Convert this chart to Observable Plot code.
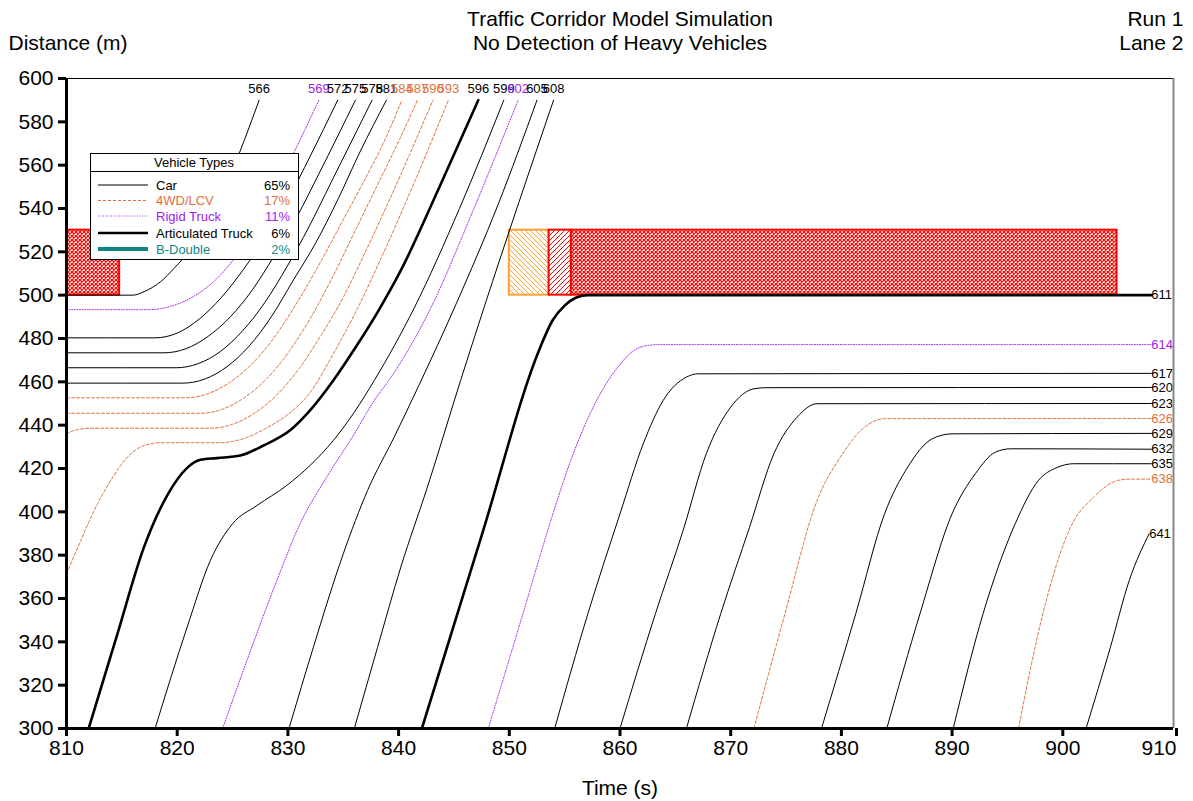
<!DOCTYPE html>
<html><head><meta charset="utf-8">
<script src="https://cdn.jsdelivr.net/npm/d3@7"></script>
<script src="https://cdn.jsdelivr.net/npm/@observablehq/plot@0.6"></script>
<style>
body{margin:0;background:#fff;}
svg{font-family: Arial, "Liberation Sans", sans-serif;}
</style>
</head><body><div id="chart"></div>
<script>
// ---- Vehicle trajectories: [time (s), distance (m)] ----
const v566 = [[810,500],[816,500],[817,501.6],[818.5,506.2],[819.7,512.3],[821.5,523],[823.5,540],[825.6,565.4],[827.4,590]];
const v569 = [[810,493.3],[817.5,493.3],[819.5,495],[821.5,499.5],[823.6,507.7],[826,523],[828.3,543],[830.5,565.4],[832.8,590]];
const v572 = [[810,480.3],[818,480.3],[820,482.5],[822,489],[824,499],[826,512],[828,527],[830,544],[832,564],[834.5,590]];
const v575 = [[810,473.4],[818.8,473.4],[820.8,475.3],[822.8,481],[824.8,490],[826.8,502.5],[828.8,518.5],[830.8,536],[832.8,556],[836.1,590]];
const v578 = [[810,466.5],[819.9,466.5],[821.9,468.4],[823.9,474],[825.9,483.5],[827.9,496.5],[829.9,513],[831.9,531.5],[833.9,552],[835.9,572.5],[837.6,590]];
const v581 = [[810,459.4],[820.5,459.4],[822.5,461.3],[824.5,467],[826.5,476.5],[828.5,490],[830.5,507],[832.5,524],[834.5,544],[836.5,566],[838.9,590]];
const v584 = [[810,452.6],[820.7,452.6],[822.7,454.4],[824.7,459.6],[826.7,468],[828.7,480],[830.7,495.5],[832.7,513],[834.7,532],[836.7,551],[838.7,571],[840.3,590]];
const v587 = [[810,445.5],[822.1,445.5],[824.1,447.4],[826.1,452.8],[828.1,461.5],[830.1,474],[832.1,490],[834.1,509],[836.1,530],[838.1,551],[840.1,572],[841.7,590]];
const v590 = [[810,436],[811,438],[812.5,438.6],[823,438.6],[825,440.4],[827,445.6],[829,454],[831,466],[833,481.5],[835,499],[837,520],[839,542],[841,565],[843.1,590]];
const v593 = [[810,371.4],[811.3,386.8],[812.5,400.6],[814,414.5],[815.5,425.2],[817,430.6],[818.5,431.9],[823.9,431.9],[826,433.8],[828,438.5],[830,445],[832,455],[834,472],[836.3,494],[838.5,518],[841.5,553],[844.5,590]];
const v596 = [[812,300],[814.6,343.7],[817,383.7],[819.1,407.6],[820.9,420.3],[822.1,424],[823.6,424.8],[825.7,426],[827.8,430.6],[830.2,437.6],[832,446.8],[834.1,460.6],[836,475],[838.2,493],[840.2,511.4],[843.7,550],[847.2,590]];
const v599 = [[818,300],[820.9,346.8],[823,377.6],[825,394.5],[827.2,402.9],[829.9,412.2],[832,421.4],[834.1,432.9],[836,446],[837.8,460.6],[841.4,494],[845.5,540],[849.5,590]];
const v602 = [[824.1,300],[826.3,331.4],[829,368.3],[831.1,394.5],[833.5,416],[836,436],[837.8,451.4],[839.3,462],[842.9,494],[846.8,540],[850.8,590]];
const v605 = [[830.1,300],[832.3,337.5],[835,380.6],[837.2,409.9],[839.6,434.5],[841.8,458],[845.2,496],[849,542],[852.5,590]];
const v608 = [[836,300],[838.1,337.5],[840.2,374.5],[842.6,411.4],[845.6,460.6],[847.7,494],[854,590]];
const v611 = [[842.1,300],[847.5,389],[852.8,476],[853.9,488.3],[855,495.2],[856,498.8],[857.1,500],[908,500]];
const v614 = [[848.1,300],[851,349],[854,400],[855.5,423],[857,442],[858.5,457],[860,468],[861,473.5],[862.2,476.5],[863.5,477.2],[908,477.2]];
const v617 = [[854.1,300],[857.1,353],[860,399.1],[862.1,431.4],[863.9,451.4],[866,462.2],[867.1,463.7],[908,463.9]];
const v620 = [[860,300],[863.2,353],[865.7,391.4],[867.8,426.9],[870,448.3],[872.1,456.8],[873.2,457.3],[908,457.4]];
const v623 = [[866,300],[869.1,353],[871.7,392.9],[873.9,426.8],[876,443.7],[877.8,449.9],[908,450]];
const v626 = [[872.1,300],[874.9,353],[877.8,405.2],[879.9,425.2],[882.1,439.1],[883.9,443],[908,443.1]];
const v629 = [[878.2,300],[881.3,353],[883.9,399.1],[886,420.7],[888.2,433.7],[890,436],[908,436.2]];
const v632 = [[884.1,300],[887.1,353],[890,399.1],[892.1,417.6],[893.9,427.5],[895.3,429.1],[908,428.9]];
const v635 = [[890.1,300],[892.8,353],[895.7,394.5],[897.8,414.5],[899.5,420.5],[901,422.2],[908,422.2]];
const v638 = [[896,300],[898.2,353],[900.7,392.9],[902.8,406.8],[905,414.5],[906.1,415.1],[908,415.1]];
const v641 = [[902.1,300],[904.3,337.5],[906,368.3],[907.8,389.9]];

const vehicleIds   = [566,569,572,575,578,581,584,587,590,593,596,599,602,605,608,611,614,617,620,623,626,629,632,635,638,641];
const vehicleTypes = ["Car","Rigid Truck","Car","Car","Car","Car","4WD/LCV","4WD/LCV","4WD/LCV","4WD/LCV","Articulated Truck","Car","Rigid Truck","Car","Car","Articulated Truck","Rigid Truck","Car","Car","Car","4WD/LCV","Car","Car","Car","4WD/LCV","Car"];
const vehicleTracks = [v566,v569,v572,v575,v578,v581,v584,v587,v590,v593,v596,v599,v602,v605,v608,v611,v614,v617,v620,v623,v626,v629,v632,v635,v638,v641];

// ---- Legend ----
const legendTypes = ["Car","4WD/LCV","Rigid Truck","Articulated Truck","B-Double"];
const legendShares = ["65%","17%","11%","6%","2%"];

// ---- Signal phases at the stop line ----
const phaseStart = [810, 850, 853.6, 855.6];
const phaseEnd   = [814.8, 853.6, 855.6, 904.9];
const phaseKind  = ["red","amber","allred","red"];
const stopLine = 500, phaseTop = 530;

const xTicks = [810,820,830,840,850,860,870,880,890,900];
const xLastTick = [910];
const yTicks = [300,320,340,360,380,400,420,440,460,480,500,520,540,560,580,600];

// ---- styles ----
const typeStyle = {
  "Car": {stroke:"#000", width:1, dash:null},
  "4WD/LCV": {stroke:"#E2703C", width:1, dash:"3,2"},
  "Rigid Truck": {stroke:"#A020F0", width:1, dash:"1,1.6"},
  "Articulated Truck": {stroke:"#000", width:2.6, dash:null},
  "B-Double": {stroke:"#108585", width:4, dash:null}
};
const labelColor = {"Car":"#000","4WD/LCV":"#E2703C","Rigid Truck":"#A020F0","Articulated Truck":"#000","B-Double":"#108585"};

const rows = [];
const ends = [];
vehicleIds.forEach((id,i) => {
  const tr = vehicleTracks[i];
  tr.forEach(([t,d]) => rows.push({id, type: vehicleTypes[i], t, d}));
  const last = tr[tr.length-1];
  ends.push({id, type: vehicleTypes[i], t: last[0], d: last[1], top: last[1] >= 589});
});
const phases = phaseStart.map((s,i) => ({start:s, end:phaseEnd[i], kind:phaseKind[i]}));

const lineMarks = Object.keys(typeStyle).filter(k => k !== "B-Double").map(k =>
  Plot.line(rows.filter(r => r.type === k), {
    x:"t", y:"d", z:"id", stroke: typeStyle[k].stroke, strokeWidth: typeStyle[k].width,
    strokeDasharray: typeStyle[k].dash || undefined, curve:"monotone-x"
  })
);

const svg = Plot.plot({
  width: 1193, height: 801,
  marginLeft: 66, marginRight: 20, marginTop: 78, marginBottom: 73,
  x: {domain:[810,910]},
  y: {domain:[300,600]},
  style: {fontFamily:"Arial, 'Liberation Sans', sans-serif", fontSize:"21px", color:"#000", background:"#fff", overflow:"visible"},
  marks: [
    Plot.rect(phases.filter(p => p.kind==="red"), {x1:"start", x2:"end", y1:stopLine, y2:phaseTop, fill:"url(#xhatch)", stroke:"#ff0000", strokeWidth:2}),
    Plot.rect(phases.filter(p => p.kind==="amber"), {x1:"start", x2:"end", y1:stopLine, y2:phaseTop, fill:"url(#amberhatch)", stroke:"#FFA033", strokeWidth:2}),
    Plot.rect(phases.filter(p => p.kind==="allred"), {x1:"start", x2:"end", y1:stopLine, y2:phaseTop, fill:"url(#redhatch)", stroke:"#ff0000", strokeWidth:2}),
    ...lineMarks,
    Plot.text(ends.filter(e => e.top), {x:"t", y:"d", text:"id", dy:-11, fontSize:13, fill: d => labelColor[d.type]}),
    Plot.text(ends.filter(e => !e.top), {x:"t", y:"d", text:"id", textAnchor:"start", dx:0, fontSize:13, fill: d => labelColor[d.type]}),
    Plot.ruleY([600], {stroke:"#000", strokeWidth:1}),
    Plot.ruleX([910], {stroke:"#888", strokeWidth:2}),
    Plot.axisX(xTicks, {tickSize:8, tickPadding:4, strokeWidth:3, fontSize:21, label:null}),
    Plot.axisX(xLastTick, {tickSize:8, tickPadding:4, strokeWidth:3, fontSize:21, label:null, textAnchor:"end", dx:3}),
    Plot.axisY(yTicks, {tickSize:8, tickPadding:5, strokeWidth:3, fontSize:21, label:null}),
    Plot.ruleX([810], {stroke:"#000", strokeWidth:3}),
    Plot.ruleY([300], {stroke:"#000", strokeWidth:3}),
    Plot.text(["Traffic Corridor Model Simulation"], {frameAnchor:"top", lineAnchor:"middle", dy:-59, fontSize:21}),
    Plot.text(["No Detection of Heavy Vehicles"], {frameAnchor:"top", lineAnchor:"middle", dy:-35, fontSize:21}),
    Plot.text(["Distance (m)"], {frameAnchor:"top-left", lineAnchor:"middle", dx:-58, dy:-35, textAnchor:"start", fontSize:21}),
    Plot.text(["Run 1"], {frameAnchor:"top-right", lineAnchor:"middle", dx:10, dy:-59, textAnchor:"end", fontSize:21}),
    Plot.text(["Lane 2"], {frameAnchor:"top-right", lineAnchor:"middle", dx:10, dy:-35, textAnchor:"end", fontSize:21}),
    Plot.text(["Time (s)"], {frameAnchor:"bottom", lineAnchor:"middle", dy:60, fontSize:21})
  ]
});

const s = d3.select(svg);
const defs = s.insert("defs", ":first-child");
const xh = defs.append("pattern").attr("id","xhatch").attr("patternUnits","userSpaceOnUse").attr("width",4).attr("height",4);
xh.append("rect").attr("width",4).attr("height",4).attr("fill","#fff");
xh.append("path").attr("d","M0,0L4,4M4,0L0,4").attr("stroke","#ff0000").attr("stroke-width",1.2);
const ah = defs.append("pattern").attr("id","amberhatch").attr("patternUnits","userSpaceOnUse").attr("width",5).attr("height",5);
ah.append("rect").attr("width",5).attr("height",5).attr("fill","#fff");
ah.append("path").attr("d","M0,0L5,5M-1,4L1,6M4,-1L6,1").attr("stroke","#FFA033").attr("stroke-width",1);
const rh = defs.append("pattern").attr("id","redhatch").attr("patternUnits","userSpaceOnUse").attr("width",5).attr("height",5);
rh.append("rect").attr("width",5).attr("height",5).attr("fill","#fff");
rh.append("path").attr("d","M0,5L5,0M-1,1L1,-1M4,6L6,4").attr("stroke","#ff0000").attr("stroke-width",1);

// Legend box (layout in pixels)
const g = s.append("g").attr("font-size", 13).attr("font-family", "Arial, 'Liberation Sans', sans-serif").attr("text-anchor","start");
g.append("rect").attr("x",90.5).attr("y",153.5).attr("width",208).attr("height",106).attr("fill","#fff").attr("stroke","#000").attr("stroke-width",1);
g.append("line").attr("x1",90.5).attr("x2",298.5).attr("y1",171.5).attr("y2",171.5).attr("stroke","#000");
g.append("text").attr("x",194).attr("y",167).attr("text-anchor","middle").attr("fill","#000").text("Vehicle Types");
const rowY = [185, 200.5, 216, 233, 249];
legendTypes.forEach((k,i) => {
  const st = typeStyle[k];
  g.append("line").attr("x1",98).attr("x2",148).attr("y1",rowY[i]).attr("y2",rowY[i])
    .attr("stroke",st.stroke).attr("stroke-width",st.width).attr("stroke-dasharray", st.dash);
  g.append("text").attr("x",156).attr("y",rowY[i]+4.5).attr("text-anchor","start").attr("fill",labelColor[k]).text(k);
  g.append("text").attr("x",290).attr("y",rowY[i]+4.5).attr("text-anchor","end").attr("fill",labelColor[k]).text(legendShares[i]);
});

document.getElementById("chart").appendChild(svg);
</script>
</body></html>
